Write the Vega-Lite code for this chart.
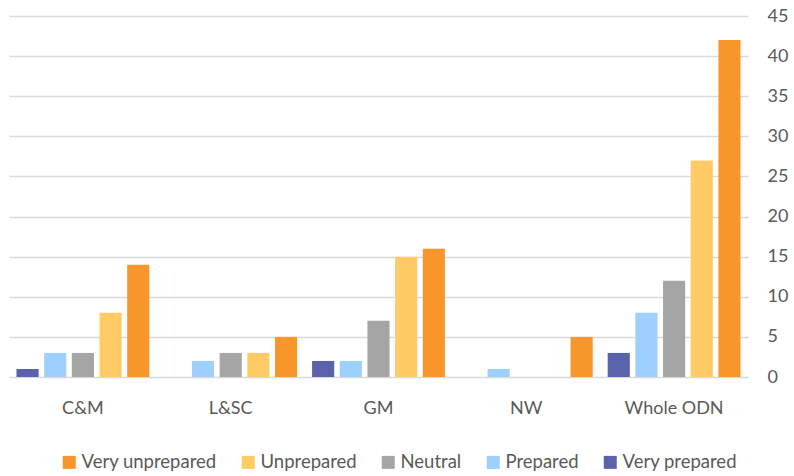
{
  "$schema": "https://vega.github.io/schema/vega-lite/v6.json",
  "width": 739,
  "height": 361,
  "autosize": {"type": "none"},
  "padding": {"left": 9, "top": 16, "right": 46, "bottom": 99},
  "background": "white",
  "config": {
    "view": {"stroke": null},
    "font": "Lato",
    "axis": {"labelFont": "Lato", "labelColor": "#595959", "labelFontSize": 18}
  },
  "data": {
    "values": [
      {"region": "C&M", "response": "Very prepared", "count": 1},
      {"region": "C&M", "response": "Prepared", "count": 3},
      {"region": "C&M", "response": "Neutral", "count": 3},
      {"region": "C&M", "response": "Unprepared", "count": 8},
      {"region": "C&M", "response": "Very unprepared", "count": 14},
      {"region": "L&SC", "response": "Very prepared", "count": 0},
      {"region": "L&SC", "response": "Prepared", "count": 2},
      {"region": "L&SC", "response": "Neutral", "count": 3},
      {"region": "L&SC", "response": "Unprepared", "count": 3},
      {"region": "L&SC", "response": "Very unprepared", "count": 5},
      {"region": "GM", "response": "Very prepared", "count": 2},
      {"region": "GM", "response": "Prepared", "count": 2},
      {"region": "GM", "response": "Neutral", "count": 7},
      {"region": "GM", "response": "Unprepared", "count": 15},
      {"region": "GM", "response": "Very unprepared", "count": 16},
      {"region": "NW", "response": "Very prepared", "count": 0},
      {"region": "NW", "response": "Prepared", "count": 1},
      {"region": "NW", "response": "Neutral", "count": 0},
      {"region": "NW", "response": "Unprepared", "count": 0},
      {"region": "NW", "response": "Very unprepared", "count": 5},
      {"region": "Whole ODN", "response": "Very prepared", "count": 3},
      {"region": "Whole ODN", "response": "Prepared", "count": 8},
      {"region": "Whole ODN", "response": "Neutral", "count": 12},
      {"region": "Whole ODN", "response": "Unprepared", "count": 27},
      {"region": "Whole ODN", "response": "Very unprepared", "count": 42}
    ]
  },
  "mark": {"type": "bar"},
  "encoding": {
    "x": {
      "field": "region",
      "type": "nominal",
      "sort": ["C&M", "L&SC", "GM", "NW", "Whole ODN"],
      "scale": {"paddingInner": 0, "paddingOuter": 0},
      "axis": {
        "title": null,
        "labelAngle": 0,
        "domain": false,
        "ticks": false,
        "labelPadding": 22
      }
    },
    "xOffset": {
      "field": "response",
      "type": "nominal",
      "sort": ["Very prepared", "Prepared", "Neutral", "Unprepared", "Very unprepared"],
      "scale": {"paddingInner": 0.2, "paddingOuter": 0.27}
    },
    "y": {
      "field": "count",
      "type": "quantitative",
      "scale": {"domain": [0, 45], "nice": false},
      "axis": {
        "orient": "right",
        "title": null,
        "values": [0, 5, 10, 15, 20, 25, 30, 35, 40, 45],
        "domain": false,
        "ticks": false,
        "labelPadding": 19,
        "labelAlign": "left",
        "gridColor": "#D9D9D9",
        "gridWidth": 1.5
      }
    },
    "color": {
      "field": "response",
      "type": "nominal",
      "scale": {
        "domain": ["Very unprepared", "Unprepared", "Neutral", "Prepared", "Very prepared"],
        "range": ["#F7962B", "#FFCB64", "#A5A5A5", "#9DCFFF", "#5A62AC"]
      },
      "legend": {
        "title": null,
        "orient": "none",
        "direction": "horizontal",
        "legendX": 51,
        "legendY": 437,
        "symbolType": "square",
        "symbolSize": 169,
        "symbolStrokeWidth": 0,
        "labelFont": "Lato",
        "labelFontSize": 18.5,
        "labelColor": "#595959",
        "labelOffset": 3,
        "columnPadding": 22
      }
    }
  }
}
